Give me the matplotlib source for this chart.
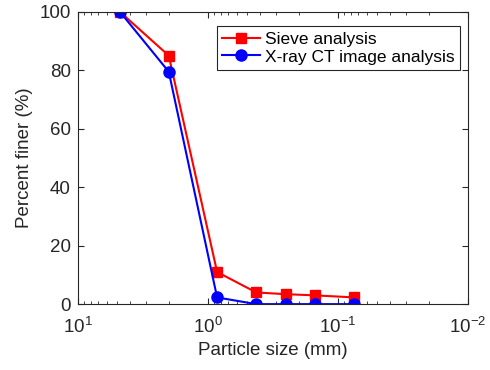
import matplotlib
matplotlib.use("Agg")
import matplotlib.pyplot as plt
from matplotlib.ticker import LogLocator, NullFormatter

plt.rcParams['font.family'] = ['Liberation Sans', 'DejaVu Sans']
plt.rcParams['mathtext.fontset'] = 'custom'
plt.rcParams['mathtext.rm'] = 'Liberation Sans'

sizes = [4.75, 2.0, 0.85, 0.425, 0.25, 0.15, 0.075]
sieve = [100, 85, 11, 4.0, 3.4, 3.0, 2.3]
xray = [100, 79.5, 2.3, 0, 0, 0, 0]

fig = plt.figure(figsize=(4.9, 3.7), dpi=100)
ax = fig.add_axes([0.159, 0.178, 0.796, 0.79])

ax.plot(sizes, sieve, '-s', color='red', lw=1.5, ms=6.5, label='Sieve analysis')
ax.plot(sizes, xray, '-o', color='blue', lw=1.5, ms=8, label='X-ray CT image analysis')

ax.set_xscale('log')
ax.set_xlim(10, 0.01)
ax.set_ylim(0, 100)
ax.set_yticks([0, 20, 40, 60, 80, 100])
ax.xaxis.set_minor_locator(LogLocator(base=10, subs=range(2, 10)))
ax.xaxis.set_minor_formatter(NullFormatter())
ax.tick_params(direction='in', which='both', top=True, right=True,
               labelsize=13.5, color='#262626', labelcolor='#262626')
ax.tick_params(which='major', length=4)
ax.tick_params(which='minor', length=2)
ax.tick_params(axis='x', which='major', pad=9)
ax.tick_params(axis='y', which='major', pad=5)
for s in ax.spines.values():
    s.set_color('#262626')
    s.set_linewidth(0.8)

ax.set_xlabel('Particle size (mm)', fontsize=13.5, color='#262626', labelpad=4)
ax.set_ylabel('Percent finer (%)', fontsize=13.5, color='#262626', labelpad=5)

leg = ax.legend(loc='upper right', bbox_to_anchor=(0.98, 0.95), fontsize=12.5,
                fancybox=False, framealpha=1, edgecolor='#262626',
                borderpad=0.3, labelspacing=0.15, handlelength=2.2,
                handletextpad=0.3, borderaxespad=0.0)
leg.get_frame().set_linewidth(0.8)

fig.savefig('out.png', dpi=100)
